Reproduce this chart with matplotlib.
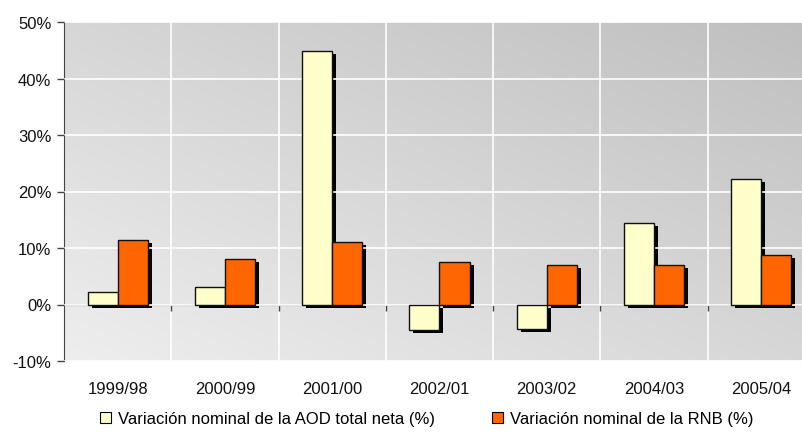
import numpy as np
import matplotlib
matplotlib.use('Agg')
import matplotlib.pyplot as plt
from matplotlib.patches import Patch
from matplotlib.colors import LinearSegmentedColormap
from matplotlib.ticker import FixedLocator, FuncFormatter
from matplotlib.transforms import ScaledTranslation

plt.rcParams['font.family'] = ['Liberation Sans', 'DejaVu Sans']
plt.rcParams['font.size'] = 12

# Datos
periodos = ['1999/98', '2000/99', '2001/00', '2002/01', '2003/02', '2004/03', '2005/04']
aod = [2.2, 3.1, 44.8, -4.6, -4.3, 14.4, 22.3]
rnb = [11.5, 8.1, 11.0, 7.5, 7.0, 7.0, 8.7]

lbl_aod = 'Variación nominal de la AOD total neta (%)'
lbl_rnb = 'Variación nominal de la RNB (%)'

col_aod = '#FFFFCC'
col_rnb = '#FF6600'

fig = plt.figure(figsize=(8.03, 4.39), dpi=100)
# plot area runs past the right edge like in the original
ax = fig.add_axes([64 / 803, 1 - 362 / 439, 751 / 803, 339 / 439])

# diagonal grey gradient background (light bottom-left, dark top-right)
fondo = LinearSegmentedColormap.from_list('fondo', ['#eeeeee', '#bfbfbf'])
gx, gy = np.meshgrid(np.linspace(0, 1, 200), np.linspace(0, 1, 200))
g = (gx + gy) / 2
ax.imshow(g, extent=[0, 1, 0, 1], transform=ax.transAxes, origin='lower',
          cmap=fondo, vmin=0, vmax=1, aspect='auto', zorder=0,
          interpolation='bilinear')

x = np.arange(len(periodos))
w = 0.28
shadow = ax.transData + ScaledTranslation(4 / 100, -3 / 100, fig.dpi_scale_trans)

ax.bar(x - w / 2, aod, w, color='black', transform=shadow, zorder=2)
ax.bar(x + w / 2, rnb, w, color='black', transform=shadow, zorder=2)
ax.bar(x - w / 2, aod, w, color=col_aod, edgecolor='#111111', linewidth=1.0, zorder=3)
ax.bar(x + w / 2, rnb, w, color=col_rnb, edgecolor='#111111', linewidth=1.0, zorder=3)

ax.set_xlim(-0.5, 6.5)
ax.set_ylim(-10, 50)

ax.yaxis.set_major_locator(FixedLocator(np.arange(-10, 51, 10)))
ax.yaxis.set_major_formatter(FuncFormatter(lambda v, p: '%d%%' % v))
ax.grid(axis='y', color='white', linewidth=1.2, zorder=1)

ax.set_xticks(x)
ax.set_xticklabels(periodos)
ax.xaxis.set_minor_locator(FixedLocator(np.arange(0.5, 7, 1)))
ax.grid(axis='x', which='minor', color='white', linewidth=1.2, zorder=1)
ax.tick_params(axis='x', which='major', length=0, pad=55, colors='#111111')
ax.tick_params(axis='x', which='minor', length=4, width=1, color='#444444', direction='out')
ax.tick_params(axis='y', length=5, width=1, color='#444444', labelcolor='#111111', pad=4)

ax.spines['bottom'].set_position(('data', 0))
ax.spines['bottom'].set_color('#666666')
ax.spines['left'].set_color('#444444')
ax.spines['top'].set_visible(False)
ax.spines['right'].set_visible(False)
ax.set_axisbelow(False)

handles = [Patch(facecolor=col_aod, edgecolor='black', linewidth=0.8, label=lbl_aod),
           Patch(facecolor=col_rnb, edgecolor='black', linewidth=0.8, label=lbl_rnb)]
fig.legend(handles=handles, loc='center', bbox_to_anchor=(427 / 803, 1 - 420 / 439),
           ncol=2, frameon=False, handlelength=0.65, handleheight=0.65,
           handletextpad=0.45, columnspacing=3.4)

fig.savefig('out.png', dpi=100)
